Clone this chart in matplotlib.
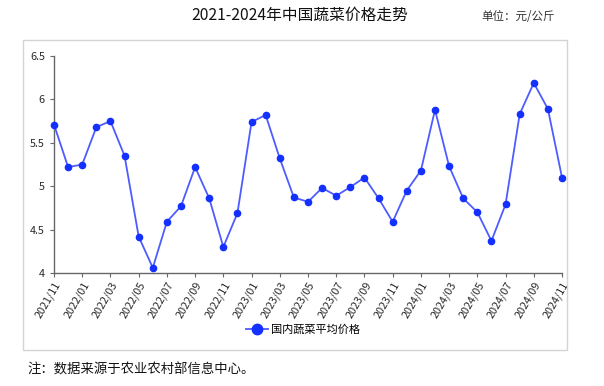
import matplotlib
matplotlib.use("Agg")
import matplotlib.pyplot as plt
from matplotlib.patches import Rectangle
from matplotlib.lines import Line2D

plt.rcParams['font.family'] = ['Noto Sans CJK SC', 'DejaVu Sans']

months = [f"{y}/{m:02d}" for y, m in
          [(2021, 11), (2021, 12)] + [(2022, i) for i in range(1, 13)] +
          [(2023, i) for i in range(1, 13)] + [(2024, i) for i in range(1, 12)]]
prices = [5.71, 5.22, 5.25, 5.68, 5.75, 5.35, 4.42, 4.06, 4.59, 4.77,
          5.22, 4.86, 4.30, 4.69, 5.74, 5.82, 5.32, 4.87, 4.82, 4.98,
          4.89, 4.99, 5.10, 4.86, 4.59, 4.95, 5.18, 5.88, 5.23, 4.86,
          4.70, 4.37, 4.79, 5.83, 6.19, 5.89, 5.10]
yticks = [4, 4.5, 5, 5.5, 6, 6.5]
ytick_labels = ["4", "4.5", "5", "5.5", "6", "6.5"]
series_name = "国内蔬菜平均价格"
title = "2021-2024年中国蔬菜价格走势"
unit = "单位：元/公斤"
note = "注：数据来源于农业农村部信息中心。"

W, H = 604, 386
fig = plt.figure(figsize=(W / 100, H / 100), dpi=100)

# outer box
fig.patches.append(Rectangle((23 / W, 1 - 350 / H), (567 - 23) / W, (350 - 40) / H,
                             transform=fig.transFigure, fill=False,
                             edgecolor='#d4d4d4', linewidth=1.0))

ax = fig.add_axes([54 / W, 1 - 273 / H, (562 - 54) / W, (273 - 56) / H])
x = list(range(len(prices)))
ax.plot(x, prices, color='#4d5cff', linewidth=1.3, marker='o', markersize=4.5,
        markerfacecolor='#1330ff', markeredgecolor='#1330ff', clip_on=False, zorder=3)
ax.set_xlim(0, len(prices) - 1)
ax.set_ylim(4, 6.5)
ax.set_yticks(yticks)
ax.set_yticklabels(ytick_labels)
ax.set_xticks(x[::2])
ax.set_xticklabels(months[::2], rotation=60, ha='right', rotation_mode='anchor')
for s in ['top', 'right']:
    ax.spines[s].set_visible(False)
for s in ['left', 'bottom']:
    ax.spines[s].set_color('#666666')
    ax.spines[s].set_linewidth(1.0)
ax.tick_params(axis='both', colors='#666666', labelcolor='#2a2a2a', labelsize=7.8,
               length=3, width=0.8, direction='out')
ax.tick_params(axis='x', pad=2)

fig.text(300 / W, 1 - 15 / H, title, ha='center', va='center', fontsize=11.3, color='#111111')
fig.text(555 / W, 1 - 16 / H, unit, ha='right', va='center', fontsize=8.3, color='#333333')
fig.text(27 / W, 1 - 370 / H, note, ha='left', va='center', fontsize=9.6, color='#111111')

handle = Line2D([], [], color='#4d5cff', linewidth=1.3, marker='o', markersize=7.5,
                markerfacecolor='#1330ff', markeredgecolor='#1330ff')
fig.legend([handle], [series_name], loc='center', bbox_to_anchor=(303 / W, 1 - 330 / H),
           frameon=False, fontsize=8, handlelength=2.0, handletextpad=0.3)

fig.savefig("out.png", dpi=100)
